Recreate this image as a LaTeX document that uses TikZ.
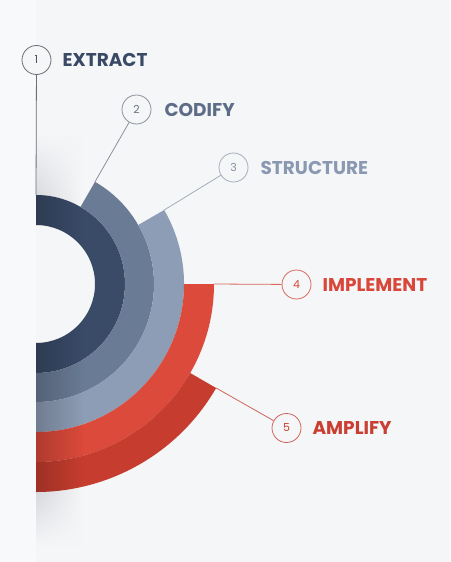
\documentclass[tikz,border=0pt]{standalone}
\usepackage{fontspec}
\setmainfont{Poppins}
\usetikzlibrary{fadings,positioning}
\definecolor{bg}{HTML}{F5F6F8}
\definecolor{shadowc}{HTML}{D2D4D8}
\definecolor{ringA}{HTML}{3A4B68}
\definecolor{ringB}{HTML}{6A7B95}
\definecolor{ringC}{HTML}{8D9DB5}
\definecolor{ringD}{HTML}{DC4A3B}
\definecolor{ringE}{HTML}{C63D2F}
\definecolor{txtA}{HTML}{3A4966}
\definecolor{txtB}{HTML}{5D6D88}
\definecolor{txtC}{HTML}{8A99B1}
\definecolor{txtD}{HTML}{D8473A}
\definecolor{txtE}{HTML}{C93F31}
\definecolor{lnA}{HTML}{6A6E76}
\definecolor{lnB}{HTML}{8A909C}
\definecolor{lnC}{HTML}{A4ADBC}
\definecolor{lnD}{HTML}{D8675C}
\definecolor{lnE}{HTML}{CF6459}
\definecolor{numA}{HTML}{4C5260}
\definecolor{numB}{HTML}{687082}
\definecolor{numC}{HTML}{8690A2}
\tikzfading[name=fadetop, top color=transparent!100, bottom color=transparent!0]
\tikzfading[name=fadebot, top color=transparent!0, bottom color=transparent!100]
\tikzfading[name=faderight, left color=transparent!0, right color=transparent!100]
\begin{document}
\begin{tikzpicture}[x=1pt,y=-1pt,
  numc/.style={circle, draw, line width=0.8pt, minimum size=29pt, inner sep=0pt, fill=bg,
    font=\fontsize{11}{11}\selectfont},
  lbl/.style={font=\fontsize{18.5}{18}\selectfont\bfseries, inner sep=0pt, text height=13pt, text depth=0pt},
  conn/.style={line width=0.8pt}]
\useasboundingbox (0,0) rectangle (450,562);
\fill[bg] (0,0) rectangle (450,562);
\fill[white, opacity=0.35] (0,0) rectangle (36,562);
% page shadows
\shade[left color=shadowc, right color=bg, path fading=fadetop] (36,135) rectangle (82,210);
\shade[left color=shadowc, right color=bg, path fading=fadebot] (36,484) rectangle (82,545);
% rings
\begin{scope}[shift={(36,284)}, y=1pt]
  \fill[ringA] (90:89) arc[start angle=90, end angle=-90, radius=89] -- (-90:59) arc[start angle=-90, end angle=90, radius=59] -- cycle;
  \fill[ringB] (60:118) arc[start angle=60, end angle=-90, radius=118] -- (-90:89) arc[start angle=-90, end angle=60, radius=89] -- cycle;
  \fill[ringC] (30:148) arc[start angle=30, end angle=-90, radius=148] -- (-90:118) arc[start angle=-90, end angle=30, radius=118] -- cycle;
  \fill[ringD] (0:178) arc[start angle=0, end angle=-90, radius=178] -- (-90:148) arc[start angle=-90, end angle=0, radius=148] -- cycle;
  \fill[ringE] (-30:208) arc[start angle=-30, end angle=-90, radius=208] -- (-90:178) arc[start angle=-90, end angle=-30, radius=178] -- cycle;
  \begin{scope}
    \clip (90:89) arc[start angle=90, end angle=0, radius=89] -- (0:59) arc[start angle=0, end angle=90, radius=59] -- cycle
          (0:208) arc[start angle=0, end angle=-90, radius=208] -- (-90:59) arc[start angle=-90, end angle=0, radius=59] -- cycle;
    \fill[black, fill opacity=0.2, path fading=faderight] (0,100) rectangle (48,-220);
  \end{scope}
  \coordinate (p1) at (90:89);
  \coordinate (p2) at (60:118);
  \coordinate (p3) at (30:148);
  \coordinate (p4) at (0:178);
  \coordinate (p5) at (-30:208);
\end{scope}
% markers
\node[numc, draw=lnA, text=numA] (c1) at (36.5,60) {1};
\node[numc, draw=lnB, text=numB] (c2) at (136.5,109.5) {2};
\node[numc, draw=lnC, text=numC] (c3) at (233.5,167.5) {3};
\node[numc, draw=lnD, text=txtD] (c4) at (296.5,284.5) {4};
\node[numc, draw=lnE, text=txtE] (c5) at (286.5,428) {5};
\draw[conn, lnA] (p1) -- (c1);
\draw[conn, lnB] (p2) -- (c2);
\draw[conn, lnC] (p3) -- (c3);
\draw[conn, lnD] (p4) -- (c4);
\draw[conn, lnE] (p5) -- (c5);
% labels
\node[lbl, text=txtA, right=11pt of c1] (t1) {EXTRACT};
\node[lbl, text=txtB, right=13pt of c2] (t2) {CODIFY};
\node[lbl, text=txtC, right=12pt of c3] (t3) {STRUCTURE};
\node[lbl, text=txtD, right=11pt of c4] (t4) {IMPLEMENT};
\node[lbl, text=txtE, right=11pt of c5] (t5) {AMPLIFY};
\end{tikzpicture}
\end{document}
